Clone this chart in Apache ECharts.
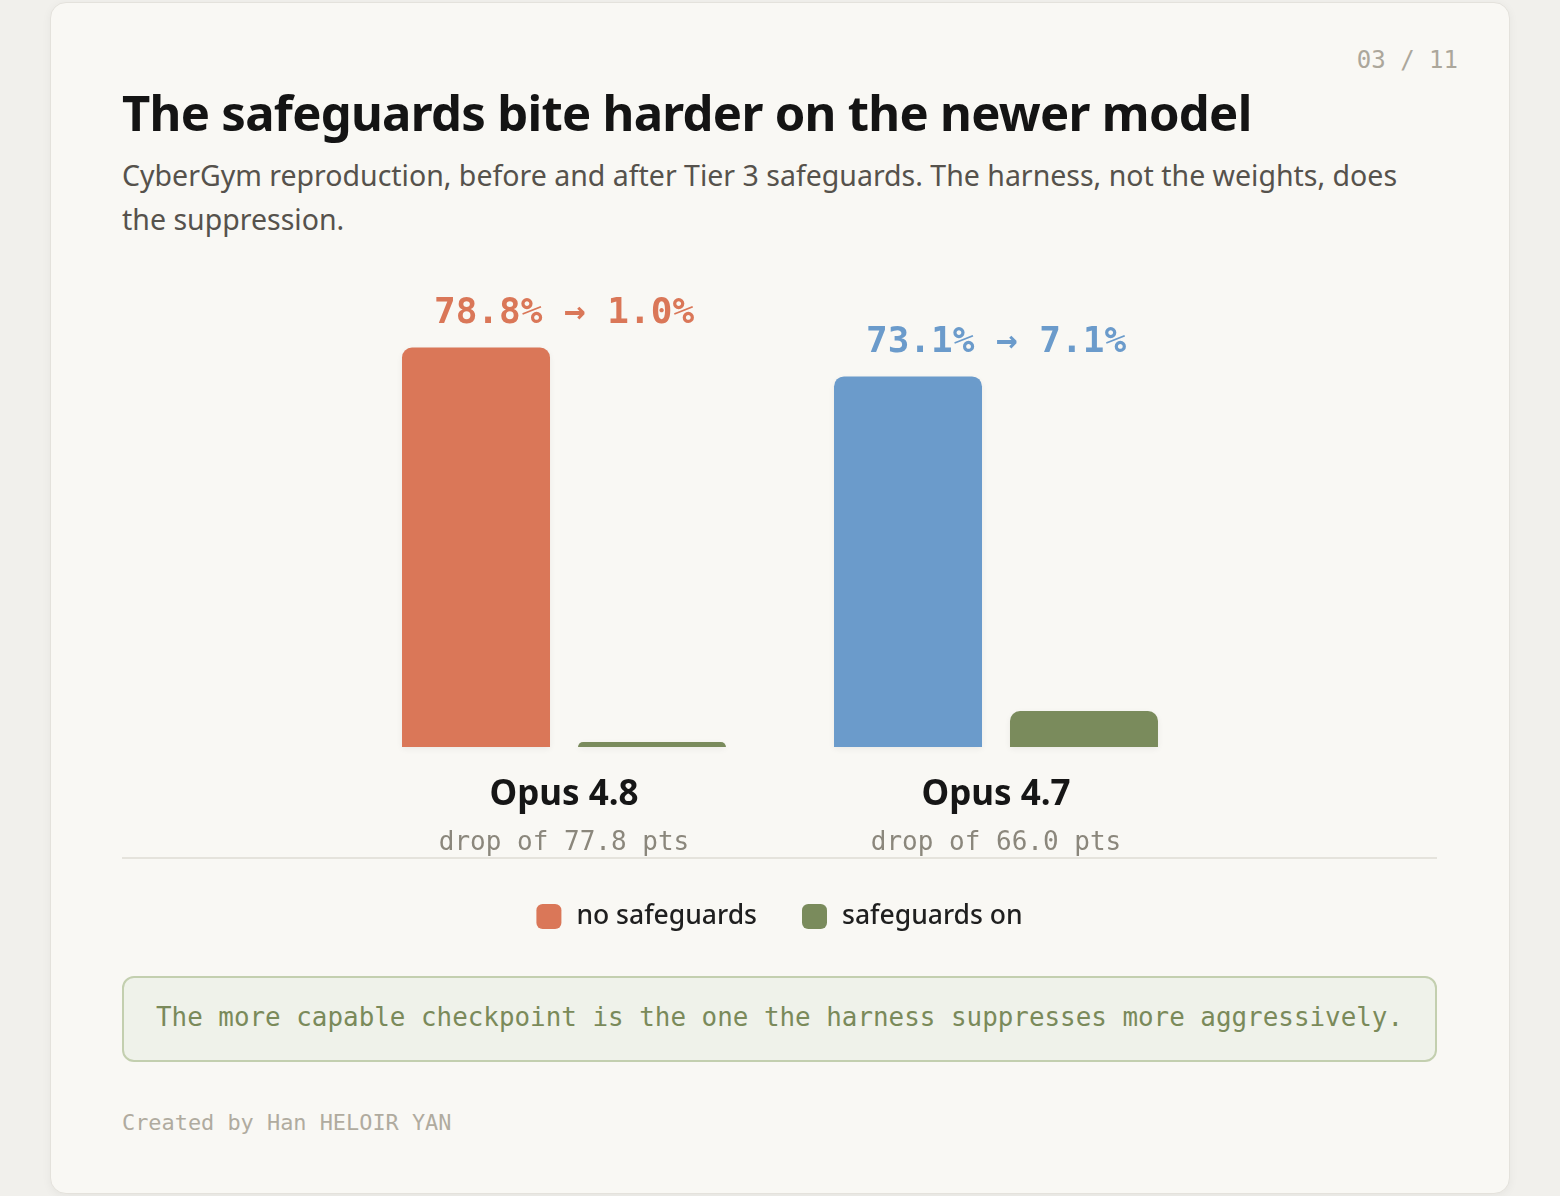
<!DOCTYPE html>
<html>
<head>
<meta charset="utf-8">
<script src="https://cdn.jsdelivr.net/npm/echarts@6/dist/echarts.min.js"></script>
<style>
  html, body { margin:0; padding:0; width:1560px; height:1196px; background:#f1f0ec; overflow:hidden; }
  .card { position:absolute; left:50px; top:2px; width:1458px; height:1190px; background:#f9f8f4;
          border:1px solid #e4e2dc; border-radius:16px; box-shadow:0 2px 10px rgba(0,0,0,0.05); }
  .abs { position:absolute; white-space:nowrap; }
  .title { left:122px; top:80px; font-family:"Noto Sans",sans-serif; font-weight:700; font-size:49px; letter-spacing:-0.7px; line-height:64px; color:#141414; }
  .sub { left:122px; top:153px; font-family:"Noto Sans",sans-serif; font-size:28.5px; line-height:44px; color:#56524c; }
  .page { right:102px; top:44px; font-family:"DejaVu Sans Mono",monospace; font-size:24px; line-height:32px; color:#aca79b; }
  .sep { left:122px; top:857px; width:1315px; height:2px; background:#e5e3dc; }
  .callout { left:122px; top:976px; width:1311px; height:82px; border:2px solid #c3cfaf; border-radius:12px; background:#eff2ea; }
  .callout span { position:absolute; left:32px; top:-2px; line-height:82px; font-family:"DejaVu Sans Mono",monospace; font-size:25.9px; color:#7a8a5a; }
  .foot { left:122px; top:1107px; font-family:"DejaVu Sans Mono",monospace; font-size:21.9px; line-height:32px; color:#b0ab9f; }
  #chart { position:absolute; left:122px; top:200px; width:1315px; height:760px; }
</style>
</head>
<body>
<div class="card"></div>
<div class="abs page">03 / 11</div>
<div class="abs title">The safeguards bite harder on the newer model</div>
<div class="abs sub">CyberGym reproduction, before and after Tier 3 safeguards. The harness, not the weights, does<br>the suppression.</div>
<div class="abs sep"></div>
<div id="chart"></div>
<div class="abs callout"><span>The more capable checkpoint is the one the harness suppresses more aggressively.</span></div>
<div class="abs foot">Created by Han HELOIR YAN</div>
<script>
const models = ['Opus 4.8', 'Opus 4.7'];
const noSafeguards = [78.8, 73.1];
const safeguardsOn = [1.0, 7.1];
const modelColors = ['#da7758', '#6b9bcb'];
const greenColor = '#7a8b5c';
const seriesNames = ['no safeguards', 'safeguards on'];

const chart = echarts.init(document.getElementById('chart'), null, { renderer: 'canvas' });
const mono = '"DejaVu Sans Mono", monospace';
const sans = '"Noto Sans", sans-serif';

chart.setOption({
  animation: false,
  grid: { left: 226, width: 864, top: 40, height: 507 },
  xAxis: {
    type: 'category',
    data: models,
    axisLine: { show: false },
    axisTick: { show: false },
    axisLabel: {
      margin: 24,
      formatter: function (v, i) {
        const drop = (noSafeguards[i] - safeguardsOn[i]).toFixed(1);
        return '{n|' + v + '}\n{s|drop of ' + drop + ' pts}';
      },
      rich: {
        n: { fontFamily: sans, fontWeight: 700, fontSize: 35, color: '#161616', lineHeight: 48 },
        s: { fontFamily: mono, fontSize: 26, color: '#8b877c', lineHeight: 48 }
      }
    }
  },
  yAxis: { type: 'value', min: 0, max: 100, show: false, splitLine: { show: false } },
  legend: {
    top: 698,
    left: 'center',
    itemWidth: 25,
    itemHeight: 25,
    itemGap: 45,
    icon: 'roundRect',
    textStyle: { fontFamily: sans, fontSize: 26.5, fontWeight: 500, color: '#1f1f1f', padding: [0, 0, 0, 10] },
    data: seriesNames
  },
  series: [
    {
      name: seriesNames[0],
      type: 'bar',
      barWidth: 148,
      barGap: '18.9%',
      itemStyle: { color: modelColors[0], borderRadius: [10, 10, 0, 0], shadowColor: 'rgba(0,0,0,0.06)', shadowBlur: 6, shadowOffsetY: 2 },
      data: noSafeguards.map((v, i) => ({
        value: v,
        itemStyle: { color: modelColors[i] },
        label: { color: modelColors[i] }
      })),
      label: {
        show: true,
        position: 'top',
        distance: 16,
        offset: [88, 0],
        fontFamily: mono,
        fontWeight: 700,
        fontSize: 36,
        formatter: p => noSafeguards[p.dataIndex].toFixed(1) + '% \u2192 ' + safeguardsOn[p.dataIndex].toFixed(1) + '%'
      }
    },
    {
      name: seriesNames[1],
      type: 'bar',
      barWidth: 148,
      itemStyle: { color: greenColor, borderRadius: [10, 10, 0, 0], shadowColor: 'rgba(0,0,0,0.06)', shadowBlur: 6, shadowOffsetY: 2 },
      data: safeguardsOn
    }
  ]
});
</script>
</body>
</html>
